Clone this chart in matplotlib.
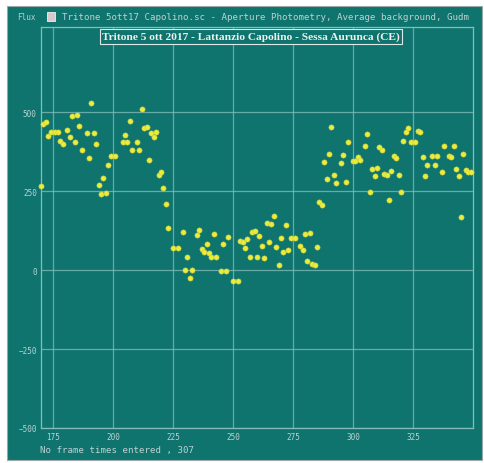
import matplotlib
matplotlib.use("Agg")
import matplotlib.pyplot as plt
import numpy as np
from matplotlib.patches import Rectangle


W, H = 484, 464
BG = "#0f746e"
GRID = "#86bdbb"
TXT = "#bcd2d2"

# frame number / flux
frames = [
    170, 171, 172, 173, 174, 176, 177, 178, 179, 181, 182, 183, 184, 185, 186, 187,
    189, 190, 191, 192, 193, 194, 195, 196, 197, 198, 199, 201, 204, 205, 206, 207,
    208, 210, 211, 212, 213, 214, 215, 216, 217, 218, 219, 220, 221, 222, 223,
    225, 227, 229, 230, 231, 232, 233, 235, 236, 237, 238, 239, 240, 241, 242, 243,
    245, 246, 247, 248, 250, 252, 253, 254, 255, 256, 257, 258, 259, 260, 261, 262,
    263, 264, 265, 266, 267, 268, 269, 270, 271, 272, 273, 274, 276, 278, 279, 280,
    281, 282, 283, 284, 285, 286, 287,
    288, 289, 290, 291, 292, 293, 295, 296, 297, 298, 300, 301, 302, 303, 305, 306,
    307, 308, 309, 310, 311, 312, 313, 314, 315, 316, 317, 318, 319, 320, 321, 322,
    323, 324, 326, 327, 328, 329, 330, 331, 333, 334, 335, 337, 338, 340, 341, 342,
    343, 344, 345, 346, 347, 348, 349,
]
flux = [
    266, 462, 468, 424, 437, 437, 437, 408, 399, 443, 421, 487, 405, 490, 456, 380,
    434, 354, 528, 434, 399, 269, 240, 291, 244, 332, 362, 360, 405, 427, 405, 471,
    380, 405, 380, 509, 449, 452, 348, 434, 421, 437, 300, 310, 259, 209, 133,
    70, 70, 120, 0, 41, -25, 0, 111, 127, 66, 57, 82, 54, 41, 114, 41,
    -3, 82, -3, 104, -35, -35, 92, 89, 70, 98, 41, 120, 123, 41, 108, 76,
    38, 149, 89, 146, 171, 73, 16, 101, 57, 142, 63, 101, 101, 76, 63, 114,
    28, 117, 19, 16, 73, 215, 206,
    342, 288, 367, 452, 300, 275, 339, 364, 278, 405, 345, 345, 357, 348, 392, 430,
    247, 320, 297, 323, 389, 380, 304, 300, 221, 313, 361, 354, 300, 247, 408, 437,
    449, 405, 405, 440, 437, 357, 297, 332, 361, 332, 361, 310, 392, 361, 357, 392,
    320, 297, 168, 367, 316, 310, 310,
]

x_ticks = [175, 200, 225, 250, 275, 300, 325]
y_ticks = [-500, -250, 0, 250, 500]
title = "Tritone 5 ott 2017 - Lattanzio Capolino - Sessa Aurunca (CE)"
header = "Tritone 5ott17 Capolino.sc - Aperture Photometry, Average background, Gudm"
footer = "No frame times entered , 307"


def fx(px):
    return px / W


def fy(py):
    return 1 - py / H


fig = plt.figure(figsize=(W / 100, H / 100), dpi=100)
fig.patch.set_facecolor("white")
fig.patches.append(Rectangle((fx(7), fy(461)), fx(482) - fx(7), fy(7) - fy(461),
                             transform=fig.transFigure, facecolor=BG,
                             edgecolor="#9aa9a8", linewidth=0.8, zorder=-5))

ax = fig.add_axes([fx(41), fy(429), fx(473) - fx(41), fy(28) - fy(429)])
ax.set_zorder(2)
ax.set_facecolor(BG)
ax.set_xlim(170, 350)
ax.set_ylim(-500, 770)
ax.set_xticks(x_ticks)
ax.set_yticks(y_ticks)
ax.grid(True, color=GRID, linewidth=0.9, alpha=0.75)
ax.set_axisbelow(True)
for s in ax.spines.values():
    s.set_color(GRID)
    s.set_linewidth(0.9)
ax.tick_params(colors=TXT, length=0, labelsize=5.5, pad=3)
for lab in ax.get_xticklabels() + ax.get_yticklabels():
    lab.set_family("DejaVu Sans Mono")
    lab.set_color(TXT)

ax.scatter(frames, flux, s=14, color="#ecec3a", edgecolors="#c6cf4a",
           linewidths=0.4, zorder=3, clip_on=False)

fig.text(fx(251), fy(37.5), title, ha="center", va="center",
         family="Liberation Serif", fontweight="bold", fontsize=8.2, color="#eef2f0",
         bbox=dict(boxstyle="square,pad=0.2", facecolor=BG, edgecolor="#dfe8e6",
                   linewidth=0.8), zorder=5)

fig.text(fx(17), fy(18), "Flux", ha="left", va="center", family="DejaVu Sans Mono",
         fontsize=5.5, color=TXT)
fig.patches.append(Rectangle((fx(47), fy(22)), fx(8), fy(0) - fy(9),
                             transform=fig.transFigure, facecolor="#d8c8cc",
                             edgecolor="#f0f0f0", linewidth=0.6, zorder=1))
fig.text(fx(62), fy(17), header, ha="left", va="center", family="DejaVu Sans Mono",
         fontsize=6.6, color=TXT)
fig.text(fx(40), fy(451), footer, ha="left", va="center", family="DejaVu Sans Mono",
         fontsize=6.6, color=TXT)

fig.savefig("out.png", dpi=100, facecolor=fig.get_facecolor())
